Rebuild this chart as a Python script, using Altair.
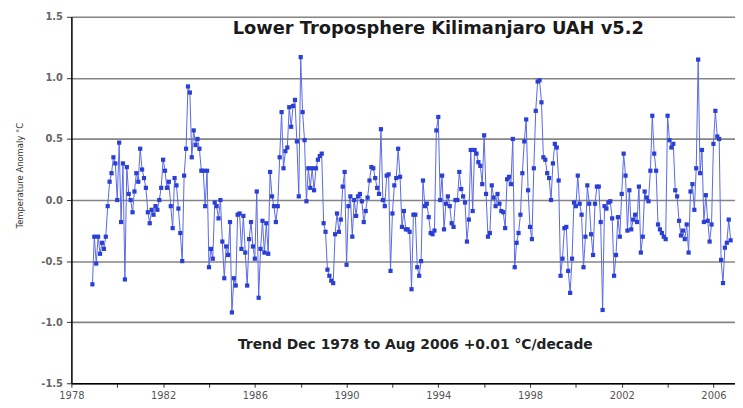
import altair as alt
import pandas as pd

# Monthly anomalies (°C), Dec 1978 onwards
y1978 = [-0.69]
y1979 = [-0.30, -0.52, -0.30, -0.44, -0.35, -0.40, -0.30, -0.05, 0.15, 0.22, 0.35, 0.30]
y1980 = [0.00, 0.47, -0.18, 0.30, -0.65, 0.27, 0.05, 0.00, -0.10, 0.07, 0.22, 0.15]
y1981 = [0.42, 0.25, 0.18, 0.10, -0.10, -0.19, -0.08, -0.12, -0.05, -0.08, 0.00, 0.10]
y1982 = [0.33, 0.24, 0.10, 0.15, -0.05, -0.23, 0.18, 0.12, -0.07, -0.27, -0.50, 0.20]
y1983 = [0.42, 0.93, 0.88, 0.35, 0.57, 0.45, 0.50, 0.42, 0.24, 0.24, -0.05, 0.24]
y1984 = [-0.55, -0.40, -0.48, -0.02, -0.05, -0.15, 0.00, -0.34, -0.64, -0.38, -0.45, -0.18]
y1985 = [-0.92, -0.64, -0.70, -0.12, -0.11, -0.40, -0.13, -0.43, -0.70, -0.32, -0.18, -0.38]
y1986 = [-0.48, 0.07, -0.80, -0.40, -0.17, -0.43, -0.19, -0.44, 0.23, 0.03, -0.05, -0.18]
y1987 = [-0.05, 0.35, 0.72, 0.26, 0.40, 0.43, 0.76, 0.60, 0.77, 0.82, 0.48, 0.03]
y1988 = [1.17, 0.72, 0.49, -0.01, 0.26, 0.10, 0.26, 0.08, 0.26, 0.33, 0.36, 0.38]
y1989 = [-0.19, -0.26, -0.57, -0.62, -0.66, -0.68, -0.28, -0.11, -0.26, -0.16, 0.11, 0.23]
y1990 = [-0.53, -0.05, 0.03, -0.30, 0.00, -0.13, 0.03, 0.05, -0.01, -0.18, -0.09, 0.02]
y1991 = [0.16, 0.27, 0.26, 0.18, 0.10, 0.05, 0.58, 0.00, -0.05, 0.20, 0.21, -0.58]
y1992 = [-0.11, 0.12, 0.18, 0.42, 0.19, -0.22, -0.09, -0.24, -0.24, -0.26, -0.73, -0.12]
y1993 = [-0.12, -0.55, -0.62, -0.50, 0.16, -0.05, -0.03, -0.14, -0.27, -0.28, -0.25, 0.57]
y1994 = [0.68, 0.00, 0.20, -0.24, -0.03, 0.03, -0.05, -0.19, -0.22, 0.00, 0.00, 0.23]
y1995 = [0.09, 0.03, -0.02, -0.34, -0.16, 0.41, -0.09, 0.41, 0.38, 0.31, 0.28, 0.13]
y1996 = [0.53, 0.05, -0.30, -0.27, 0.12, 0.02, -0.05, 0.05, -0.03, -0.09, -0.10, -0.23]
y1997 = [0.17, 0.19, 0.13, 0.50, -0.55, -0.35, -0.27, -0.12, 0.22, 0.48, 0.66, 0.08]
y1998 = [-0.22, -0.32, 0.26, 0.73, 0.97, 0.98, 0.80, 0.35, 0.33, 0.22, 0.18, 0.00]
y1999 = [0.30, 0.46, 0.43, 0.16, -0.62, -0.48, -0.23, -0.22, -0.58, -0.76, -0.48, -0.02]
y2000 = [-0.05, 0.20, -0.03, -0.12, -0.55, -0.30, 0.12, -0.03, -0.28, -0.45, -0.03, 0.11]
y2001 = [0.11, -0.18, -0.90, -0.05, -0.07, -0.02, -0.01, -0.15, -0.62, -0.45, -0.14, -0.30]
y2002 = [0.05, 0.38, 0.20, -0.25, 0.08, -0.24, -0.16, -0.12, -0.18, 0.11, -0.43, -0.30]
y2003 = [0.07, 0.02, -0.01, 0.24, 0.69, 0.38, 0.24, -0.20, -0.24, -0.27, -0.30, -0.32]
y2004 = [0.69, 0.49, 0.43, 0.46, 0.08, 0.03, -0.17, -0.29, -0.25, -0.32, -0.20, -0.43]
y2005 = [0.07, 0.13, -0.08, 0.26, 1.15, 0.22, 0.41, -0.18, 0.04, -0.17, -0.34, -0.20]
y2006 = [0.46, 0.73, 0.52, 0.50, -0.49, -0.68, -0.39, -0.35, -0.16, -0.33]

years = [y1979, y1980, y1981, y1982, y1983, y1984, y1985, y1986, y1987, y1988,
         y1989, y1990, y1991, y1992, y1993, y1994, y1995, y1996, y1997, y1998,
         y1999, y2000, y2001, y2002, y2003, y2004, y2005, y2006]

tick_years = list(range(1978, 2007))
y_ticks = [-1.5, -1.0, -0.5, 0.0, 0.5, 1.0, 1.5]
title_text = "Lower Troposphere Kilimanjaro UAH v5.2"
trend_text = "Trend Dec 1978 to Aug 2006  +0.01 °C/decade"

rows = [{"t": 1978 + 11 / 12, "v": y1978[0]}]
for i, vals in enumerate(years):
    yr = 1979 + i
    for m, v in enumerate(vals):
        rows.append({"t": yr + m / 12, "v": v})
df = pd.DataFrame(rows)

xs = alt.Scale(domain=[1978, 2006.94], nice=False, zero=False)
ys = alt.Scale(domain=[-1.5, 1.5], nice=False, zero=False)

xaxis = alt.Axis(values=tick_years, labelExpr="(datum.value - 1978) % 4 == 0 ? datum.value : ''",
                 grid=False, domainColor="black", domainWidth=1.5, tickColor="#333",
                 tickSize=4, labelColor="#555", labelFont="DejaVu Sans", labelFontSize=10,
                 labelPadding=3, title=None, labelFlush=False)
yaxis = alt.Axis(values=y_ticks,
                 labelExpr="replace(format(datum.value, '.1f'), '\u2212', '-')",
                 grid=True, gridColor="#858585", gridWidth=1.6,
                 domainColor="black", domainWidth=1.5, tickColor="#333", tickSize=5,
                 labelColor="#666", labelFont="DejaVu Sans", labelFontSize=10,
                 labelFontWeight="bold", labelPadding=4,
                 title="Temperature Anomaly °C", titleFont="DejaVu Sans",
                 titleFontSize=8.5, titleFontWeight="normal", titleColor="#333",
                 titleAngle=270, titleX=-52, titleY=160, titleAlign="center",
                 titleBaseline="middle")

base = alt.Chart(df)
line = base.mark_line(color="#5868e8", strokeWidth=1).encode(
    x=alt.X("t:Q", scale=xs, axis=xaxis),
    y=alt.Y("v:Q", scale=ys, axis=yaxis),
)
pts = base.mark_point(shape="square", filled=True, size=18, color="#2b3fd4", opacity=1).encode(
    x=alt.X("t:Q", scale=xs),
    y=alt.Y("v:Q", scale=ys),
)

labels = pd.DataFrame({"t": [1994.0, 1993.0], "v": [1.40, -1.19],
                       "txt": [title_text, trend_text], "kind": ["title", "trend"]})
title_mark = alt.Chart(labels[labels.kind == "title"]).mark_text(
    font="DejaVu Sans", fontSize=18, fontWeight="bold", color="#1a1a1a", baseline="middle"
).encode(x=alt.X("t:Q", scale=xs), y=alt.Y("v:Q", scale=ys), text="txt:N")
trend_mark = alt.Chart(labels[labels.kind == "trend"]).mark_text(
    font="DejaVu Sans", fontSize=14, fontWeight="bold", color="#222", baseline="middle"
).encode(x=alt.X("t:Q", scale=xs), y=alt.Y("v:Q", scale=ys), text="txt:N")

chart = alt.layer(line, pts, title_mark, trend_mark).properties(
    width=670, height=370,
    autosize=alt.AutoSizeParams(type="none"),
    padding={"left": 64, "top": 7, "right": 0, "bottom": 16},
).configure_view(stroke=None).configure(background="white")

chart.save("out.html", embed_options={"renderer": "svg", "actions": False})
